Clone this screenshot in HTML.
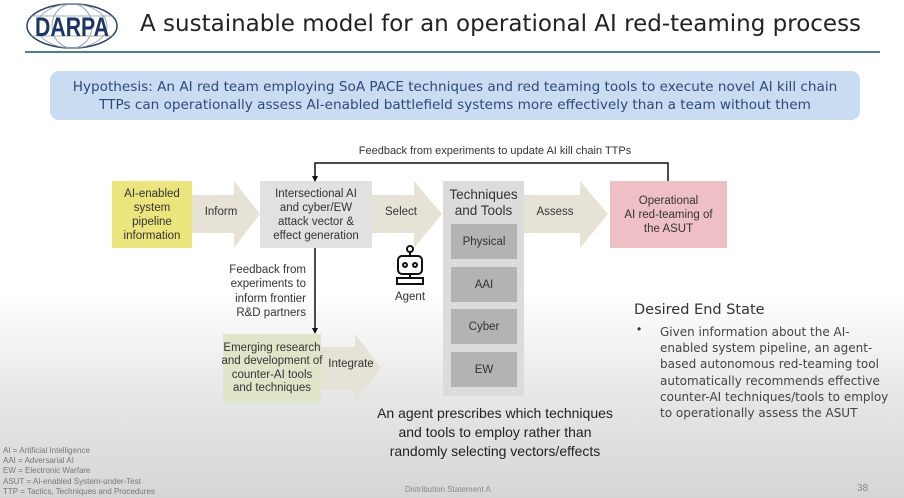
<!DOCTYPE html>
<html><head><meta charset="utf-8"><style>
html,body{margin:0;padding:0}
body{width:904px;height:498px;position:relative;overflow:hidden;font-family:"Liberation Sans",sans-serif;background:linear-gradient(#fff 0px,#fff 290px,#e6e6e6 400px,#d6d6d6 498px);color:#333}
.a{position:absolute;white-space:nowrap}
.c{text-align:center;display:flex;align-items:center;justify-content:center}
</style></head><body>
<svg class="a" style="left:0;top:0" width="904" height="498">
<ellipse cx="72" cy="26" rx="45" ry="22" fill="#fff" stroke="#2a3f6e" stroke-width="1.5"/>
<ellipse cx="72" cy="26" rx="20" ry="22" fill="none" stroke="#8894ad" stroke-width="0.8"/>
<ellipse cx="72" cy="26" rx="35" ry="22" fill="none" stroke="#8894ad" stroke-width="0.8"/>
<line x1="30" y1="16" x2="114" y2="16" stroke="#8894ad" stroke-width="0.8"/>
<line x1="30" y1="36" x2="114" y2="36" stroke="#8894ad" stroke-width="0.8"/>
<text x="72" y="36" text-anchor="middle" font-family="Liberation Sans" font-weight="bold" font-size="27" fill="#1c3466" textLength="74" lengthAdjust="spacingAndGlyphs">DARPA</text>
<line x1="25" y1="52" x2="880" y2="52" stroke="#4d7d8c" stroke-width="2"/>
<rect x="50" y="71" width="810" height="49" rx="9" fill="#cadcf2"/>
<g fill="#e6e2d5">
<polygon points="192,195 234,195 234,181 260,214 234,248 234,233 192,233"/>
<polygon points="372,195 414,195 414,181 442,214 414,248 414,233 372,233"/>
<polygon points="523,195 580,195 580,181 608,214 580,248 580,233 523,233"/>
<polygon points="320,347 355,347 355,334 381,368 355,402 355,390 320,390"/>
</g>
<rect x="112" y="181" width="80" height="67" fill="#ece47c"/>
<rect x="260" y="181" width="112" height="67" fill="#e1e1e1"/>
<rect x="443" y="181" width="81" height="215" fill="#dcdcdc"/>
<g fill="#b3b3b3">
<rect x="451" y="224" width="66" height="35"/>
<rect x="451" y="267" width="66" height="35"/>
<rect x="451" y="309" width="66" height="35"/>
<rect x="451" y="352" width="66" height="35"/>
</g>
<rect x="610" y="181" width="117" height="67" fill="#eec0c5"/>
<rect x="223" y="334" width="98" height="69" fill="#dee6ca"/>
<polyline points="315,178 315,163 668,163 668,181" fill="none" stroke="#111" stroke-width="1.5"/>
<polygon points="312,176 318,176 315,182" fill="#111"/>
<line x1="315" y1="248" x2="315" y2="330" stroke="#111" stroke-width="1.5"/>
<polygon points="312,328 318,328 315,334" fill="#111"/>
<g fill="none" stroke="#111" stroke-width="2">
<circle cx="410" cy="249" r="3"/>
<line x1="410" y1="252" x2="410" y2="256"/>
<rect x="398" y="256" width="24" height="18" rx="4"/>
<circle cx="405" cy="265" r="2"/><circle cx="415" cy="265" r="2"/>
<line x1="410" y1="274" x2="410" y2="278"/>
<path d="M397 284 L397 278 L423 278 L423 284 Z"/>
</g>
</svg>
<div class="a" style="left:140px;top:11px;font-family:'DejaVu Sans',sans-serif;font-size:23px;color:#222">A sustainable model for an operational AI red-teaming process</div>
<div class="a" style="left:50px;top:78px;width:810px;text-align:center;font-family:'DejaVu Sans',sans-serif;font-size:13.6px;line-height:18px;color:#2c4a78">Hypothesis: An AI red team employing SoA PACE techniques and red teaming tools to execute novel AI kill chain<br>TTPs can operationally assess AI-enabled battlefield systems more effectively than a team without them</div>
<div class="a" style="left:330px;top:145px;width:330px;text-align:center;font-size:11px">Feedback from experiments to update AI kill chain TTPs</div>
<div class="a c" style="left:112px;top:181px;width:80px;height:67px;font-size:11.5px;line-height:14px">AI-enabled<br>system<br>pipeline<br>information</div>
<div class="a c" style="left:196px;top:206px;width:50px;font-size:11.5px">Inform</div>
<div class="a c" style="left:260px;top:181px;width:112px;height:67px;font-size:11.5px;line-height:14px">Intersectional AI<br>and cyber/EW<br>attack vector &amp;<br>effect generation</div>
<div class="a c" style="left:376px;top:206px;width:50px;font-size:11.5px">Select</div>
<div class="a c" style="left:443px;top:187px;width:81px;font-size:13.5px;line-height:16px">Techniques<br>and Tools</div>
<div class="a c" style="left:451px;top:224px;width:66px;height:35px;font-size:11.5px">Physical</div>
<div class="a c" style="left:451px;top:267px;width:66px;height:35px;font-size:11.5px">AAI</div>
<div class="a c" style="left:451px;top:309px;width:66px;height:35px;font-size:11.5px">Cyber</div>
<div class="a c" style="left:451px;top:352px;width:66px;height:35px;font-size:11.5px">EW</div>
<div class="a c" style="left:530px;top:206px;width:50px;font-size:11.5px">Assess</div>
<div class="a c" style="left:610px;top:181px;width:117px;height:67px;font-size:11.5px;line-height:14px">Operational<br>AI red-teaming of<br>the ASUT</div>
<div class="a" style="left:220px;top:263px;width:86px;text-align:right;font-size:11.5px;line-height:14.3px">Feedback from<br>experiments to<br>inform frontier<br>R&amp;D partners</div>
<div class="a c" style="left:385px;top:291px;width:50px;font-size:11.5px">Agent</div>
<div class="a c" style="left:223px;top:334px;width:98px;height:69px;font-size:11.5px;line-height:13.5px">Emerging research<br>and development of<br>counter-AI tools<br>and techniques</div>
<div class="a c" style="left:321px;top:358px;width:60px;font-size:11.5px">Integrate</div>
<div class="a" style="left:370px;top:404px;width:250px;text-align:center;font-size:14px;line-height:19px;color:#222">An agent prescribes which techniques<br>and tools to employ rather than<br>randomly selecting vectors/effects</div>
<div class="a" style="left:634px;top:302px;font-family:'DejaVu Sans',sans-serif;font-size:14.5px;color:#333">Desired End State</div>
<div class="a" style="left:637px;top:322px;font-size:12px">•</div>
<div class="a" style="left:660px;top:324px;width:240px;font-family:'DejaVu Sans',sans-serif;font-size:12px;line-height:16.2px;color:#444">Given information about the AI-<br>enabled system pipeline, an agent-<br>based autonomous red-teaming tool<br>automatically recommends effective<br>counter-AI techniques/tools to employ<br>to operationally assess the ASUT</div>
<div class="a" style="left:3px;top:446px;font-size:8px;line-height:10.2px;color:#777">AI = Artificial Intelligence<br>AAI = Adversarial AI<br>EW = Electronic Warfare<br>ASUT = AI-enabled System-under-Test<br>TTP = Tactics, Techniques and Procedures</div>
<div class="a" style="left:405px;top:485px;font-size:8px;color:#888">Distribution Statement A</div>
<div class="a" style="left:857px;top:483px;font-size:10px;color:#888">38</div>
</body></html>
